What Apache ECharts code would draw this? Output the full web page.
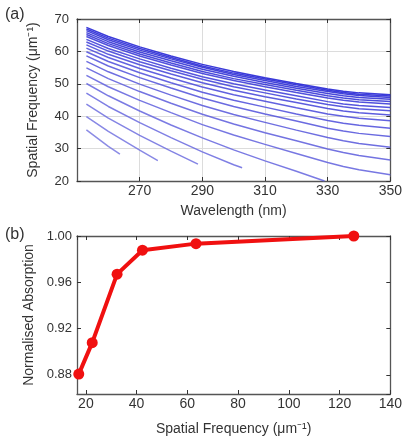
<!DOCTYPE html>
<html lang="en">
<head>
    <meta charset="UTF-8">
    <title>Spatial frequency</title>
    <style>
        html, body { margin: 0; padding: 0; background: #fff; }
    </style>
</head>
<body>
<div id="main" style="width: 405px;height:437px;"></div>

<script src="https://cdn.jsdelivr.net/npm/echarts@6/dist/echarts.min.js"></script>
<script>
    // panel (a): wavelength grid (nm) shared by the full-length curves
    var wl = [253, 260, 270, 280, 290, 300, 310, 320, 330, 335, 340, 350];

    var mode1 = [67.4, 64.6, 61.4, 58.6, 56.0, 53.8, 51.9, 50.1, 48.4, 47.7, 47.2, 46.6];
    var mode2 = [66.9, 64.1, 60.9, 58.1, 55.5, 53.3, 51.5, 49.7, 48.0, 47.3, 46.8, 46.2];
    var mode3 = [66.4, 63.6, 60.4, 57.7, 55.1, 52.9, 51.0, 49.2, 47.6, 46.9, 46.4, 45.8];
    var mode4 = [65.8, 63.0, 59.8, 57.1, 54.5, 52.3, 50.4, 48.6, 47.0, 46.3, 45.8, 45.2];
    var mode5 = [65.2, 62.4, 59.2, 56.4, 53.8, 51.6, 49.8, 48.0, 46.3, 45.6, 45.1, 44.5];
    var mode6 = [64.6, 61.8, 58.6, 55.8, 53.2, 51.0, 49.1, 47.3, 45.6, 44.9, 44.4, 43.8];
    var mode7 = [63.7, 60.9, 57.7, 54.8, 52.2, 50.0, 48.1, 46.3, 44.5, 43.8, 43.3, 42.7];
    var mode8 = [62.9, 60.1, 56.8, 54.0, 51.4, 49.1, 47.2, 45.3, 43.6, 42.9, 42.3, 41.7];
    var mode9 = [62.0, 59.1, 55.9, 53.0, 50.3, 48.0, 46.0, 44.2, 42.4, 41.6, 41.1, 40.4];
    var mode10 = [61.0, 58.1, 54.7, 51.8, 49.0, 46.6, 44.6, 42.6, 40.7, 40.0, 39.4, 38.6];
    var mode11 = [59.9, 56.9, 53.4, 50.3, 47.4, 44.9, 42.8, 40.7, 38.7, 37.8, 37.2, 36.3];
    var mode12 = [58.6, 55.5, 51.9, 48.7, 45.6, 43.0, 40.7, 38.5, 36.3, 35.4, 34.7, 33.7];
    var mode13 = [56.9, 53.7, 49.9, 46.5, 43.3, 40.5, 38.1, 35.7, 33.4, 32.4, 31.6, 30.4];
    var mode14 = [54.9, 51.6, 47.6, 44.0, 40.6, 37.6, 34.9, 32.4, 29.9, 28.8, 27.9, 26.5];
    var mode15 = [52.6, 49.1, 44.9, 41.1, 37.4, 34.2, 31.3, 28.5, 25.7, 24.5, 23.5, 21.9];

    // shorter curves, each with its own wavelengths
    var wl16 = [253, 260, 270, 280, 290, 300, 310, 320, 329];
    var mode16 = [50.1, 46.3, 41.6, 37.3, 33.3, 29.6, 26.2, 23.0, 20.0];
    var wl17 = [253, 260, 270, 280, 290, 300, 302.7];
    var mode17 = [47.1, 43.0, 38.0, 33.4, 29.0, 25.0, 24.1];
    var wl18 = [253, 260, 270, 280, 288.6];
    var mode18 = [43.7, 39.4, 34.1, 29.2, 25.2];
    var wl19 = [253, 260, 270, 275.8];
    var mode19 = [39.9, 35.3, 29.5, 26.3];
    var wl20 = [253, 260, 263.7];
    var mode20 = [35.8, 30.7, 28.3];

    // panel (b)
    var spatialFreq = [17.2, 22.5, 32.3, 42.3, 63.4, 125.6];
    var absorption = [0.8806, 0.9078, 0.967, 0.9877, 0.9934, 1.0];

    var modes = [mode1, mode2, mode3, mode4, mode5, mode6, mode7, mode8, mode9, mode10,
        mode11, mode12, mode13, mode14, mode15, mode16, mode17, mode18, mode19, mode20];
    var modeWl = [wl, wl, wl, wl, wl, wl, wl, wl, wl, wl, wl, wl, wl, wl, wl,
        wl16, wl17, wl18, wl19, wl20];

    var font = 'Liberation Sans, Arial, sans-serif';
    var textColor = '#333';
    var frameColor = '#555';

    function frameAxis(extra) {
        var base = {
            axisLine: {show: true, onZero: false, lineStyle: {color: frameColor, width: 1.3}},
            axisTick: {show: true, inside: true, length: 4, lineStyle: {color: '#333'}},
            axisLabel: {show: false},
            splitLine: {show: false}
        };
        return Object.assign(base, extra);
    }

    var series = [];
    for (var i = 0; i < modes.length; i++) {
        var t = i / (modes.length - 1);
        var r = Math.round(25 + 95 * t), g = Math.round(25 + 95 * t), b = Math.round(210 + 15 * t);
        var pts = [];
        for (var j = 0; j < modes[i].length; j++) {
            pts.push([modeWl[i][j], modes[i][j]]);
        }
        series.push({
            type: 'line',
            xAxisIndex: 0,
            yAxisIndex: 0,
            data: pts,
            showSymbol: false,
            lineStyle: {color: 'rgba(' + r + ',' + g + ',' + b + ',0.85)', width: 1.5},
            silent: true
        });
    }

    var absPts = [];
    for (var k = 0; k < spatialFreq.length; k++) {
        absPts.push([spatialFreq[k], absorption[k]]);
    }
    series.push({
        type: 'line',
        xAxisIndex: 2,
        yAxisIndex: 2,
        data: absPts,
        symbol: 'circle',
        symbolSize: 11,
        itemStyle: {color: '#f01010'},
        lineStyle: {color: '#f01010', width: 4}
    });

    var chart = echarts.init(document.getElementById('main'));
    var option = {
        animation: false,
        textStyle: {fontFamily: font},
        title: [
            {text: '(a)', left: 0, top: 2, textStyle: {fontSize: 16, fontWeight: 'normal', color: textColor, fontFamily: font}},
            {text: '(b)', left: 0, top: 222, textStyle: {fontSize: 16, fontWeight: 'normal', color: textColor, fontFamily: font}}
        ],
        grid: [
            {left: 77, top: 19, width: 320, height: 162},
            {left: 77, top: 236, width: 320, height: 159}
        ],
        xAxis: [
            frameAxis({
                type: 'value', gridIndex: 0, position: 'bottom',
                min: 250, max: 350, interval: 20,
                name: 'Wavelength (nm)', nameLocation: 'middle', nameGap: 23,
                nameTextStyle: {fontSize: 14, color: textColor, fontFamily: font},
                axisLabel: {show: true, showMinLabel: false, margin: 3, fontSize: 14, color: textColor, fontFamily: font},
                splitLine: {show: true, lineStyle: {color: '#dcdcdc', width: 1}}
            }),
            frameAxis({type: 'value', gridIndex: 0, position: 'top', min: 250, max: 350, interval: 20}),
            frameAxis({
                type: 'value', gridIndex: 1, position: 'bottom',
                min: 16.5, max: 140, minInterval: 20, maxInterval: 20,
                name: 'Spatial Frequency (μm⁻¹)', nameLocation: 'middle', nameGap: 28,
                nameTextStyle: {fontSize: 14, color: textColor, fontFamily: font},
                axisLabel: {show: true, showMinLabel: false, margin: 3, fontSize: 14, color: textColor, fontFamily: font}
            }),
            frameAxis({type: 'value', gridIndex: 1, position: 'top', min: 16.5, max: 140, minInterval: 20, maxInterval: 20})
        ],
        yAxis: [
            frameAxis({
                type: 'value', gridIndex: 0, position: 'left',
                min: 20, max: 70, interval: 10,
                name: 'Spatial Frequency (μm⁻¹)', nameLocation: 'middle', nameGap: 37,
                nameTextStyle: {fontSize: 14, color: textColor, fontFamily: font},
                axisLabel: {show: true, margin: 8, fontSize: 13, color: textColor, fontFamily: font},
                splitLine: {show: true, lineStyle: {color: '#dcdcdc', width: 1}}
            }),
            frameAxis({type: 'value', gridIndex: 0, position: 'right', min: 20, max: 70, interval: 10}),
            frameAxis({
                type: 'value', gridIndex: 1, position: 'left',
                min: 0.8634, max: 1.0, minInterval: 0.04, maxInterval: 0.04,
                name: 'Normalised Absorption', nameLocation: 'middle', nameGap: 34,
                nameTextStyle: {fontSize: 14, color: textColor, fontFamily: font},
                axisLabel: {
                    show: true, showMinLabel: false, margin: 5, fontSize: 13, color: textColor, fontFamily: font,
                    formatter: function (v) { return v.toFixed(2); }
                }
            }),
            frameAxis({type: 'value', gridIndex: 1, position: 'right', min: 0.8634, max: 1.0, minInterval: 0.04, maxInterval: 0.04})
        ],
        series: series
    };

    option && chart.setOption(option);
</script>
</body>
</html>
